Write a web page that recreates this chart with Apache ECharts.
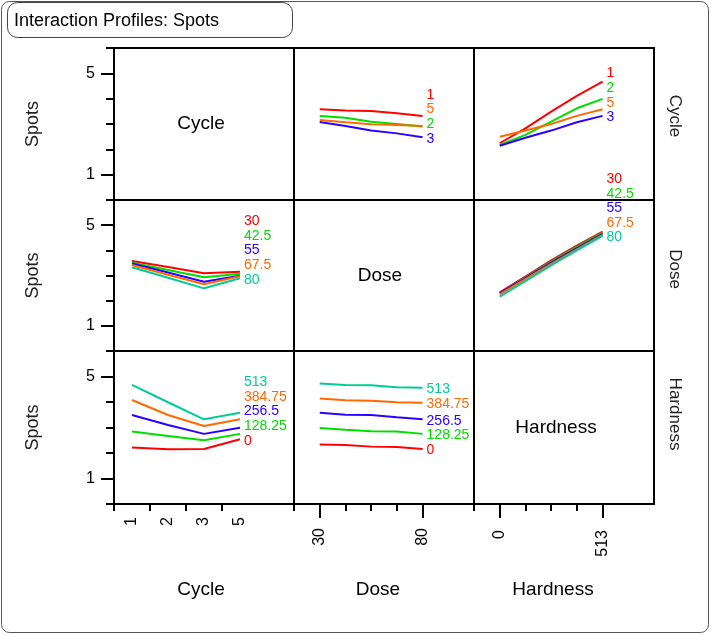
<!DOCTYPE html>
<html>
<head>
<meta charset="utf-8">
<title>Interaction Profiles: Spots</title>
<script src="https://cdn.jsdelivr.net/npm/echarts@6.0.0/dist/echarts.min.js"></script>
<style>
  html, body { margin: 0; padding: 0; background: #fff; }
  #chart { width: 711px; height: 635px; }
</style>
</head>
<body>
<div id="chart"></div>
<script>
// factor levels
const cycleLevels = ['1', '2', '3', '5']
const doseLevels = ['30', '42.5', '55', '67.5', '80']
const hardnessLevels = ['0', '128.25', '256.5', '384.75', '513']
const factorNames = ['Cycle', 'Dose', 'Hardness']
const yLabelTicks = [1, 5]

// Spots profiles, one array per trace level (x = column factor levels)
const cycleByDose = [
  [3.58, 3.53, 3.51, 3.42, 3.32],
  [3.32, 3.25, 3.09, 3.00, 2.90],
  [3.08, 2.92, 2.74, 2.63, 2.48],
  [3.16, 3.07, 2.99, 2.96, 2.92]
]
const cycleByHardness = [
  [2.24, 2.83, 3.49, 4.11, 4.67],
  [2.17, 2.57, 3.09, 3.62, 3.99],
  [2.14, 2.46, 2.74, 3.07, 3.32],
  [2.50, 2.74, 3.00, 3.32, 3.58]
]
const doseByCycle = [
  [3.58, 3.34, 3.09, 3.15],
  [3.51, 3.22, 2.93, 3.07],
  [3.48, 3.12, 2.75, 2.99],
  [3.42, 3.03, 2.65, 2.97],
  [3.33, 2.91, 2.49, 2.89]
]
const doseByHardness = [
  [2.33, 2.96, 3.60, 4.19, 4.74],
  [2.29, 2.92, 3.55, 4.14, 4.70],
  [2.29, 2.90, 3.51, 4.09, 4.65],
  [2.25, 2.86, 3.46, 4.04, 4.61],
  [2.16, 2.78, 3.40, 4.00, 4.57]
]
const hardnessByCycle = [
  [2.22, 2.15, 2.16, 2.54],
  [2.84, 2.67, 2.50, 2.75],
  [3.49, 3.10, 2.75, 2.99],
  [4.08, 3.49, 3.06, 3.32],
  [4.67, 3.99, 3.32, 3.58]
]
const hardnessByDose = [
  [2.33, 2.31, 2.25, 2.24, 2.16],
  [2.98, 2.91, 2.85, 2.84, 2.75],
  [3.58, 3.50, 3.49, 3.40, 3.32],
  [4.14, 4.07, 4.05, 3.99, 3.97],
  [4.73, 4.67, 4.66, 4.58, 4.56]
]

const colors = ['#ff0000', '#00dd00', '#2a00ff', '#ff6a00', '#00cc99']
const levels = [cycleLevels, doseLevels, hardnessLevels]
const profiles = [
  [null, cycleByDose, cycleByHardness],
  [doseByCycle, null, doseByHardness],
  [hardnessByCycle, hardnessByDose, null]
]
// category slots per column (blank slots give the empty space in each cell)
const axisCats = [
  cycleLevels.concat([' ']),
  [' '].concat(doseLevels, ['  ', '   ']),
  [' '].concat(hardnessLevels, ['  ', '   '])
]
const onBand = [true, false, false]
const tickLabelMargin = [13, 24, 26]

const colX = [114, 294, 474]
const colW = 180
const rowY = [48, 200, 351]
const rowH = [152, 151, 153]
const FONT = '"Liberation Sans", Arial, sans-serif'

let myChart = echarts.init(document.getElementById('chart'))

let grids = []
let xAxes = []
let yAxes = []
let series = []
let cells = []

for (let r = 0; r < 3; r++) {
  for (let c = 0; c < 3; c++) {
    let g = r * 3 + c
    let bottom = r === 2
    grids.push({
      left: colX[c], top: rowY[r], width: colW, height: rowH[r],
      show: true, borderColor: '#000', borderWidth: 2, backgroundColor: 'transparent'
    })
    let minorTick = c === 0
      ? (i) => i < 4
      : (i) => i === 0 || i === 2 || i === 3 || i === 4
    xAxes.push({
      gridIndex: g, type: 'category', data: axisCats[c], boundaryGap: onBand[c],
      show: bottom,
      axisLine: { show: false },
      axisTick: { show: true, alignWithLabel: false, interval: minorTick, length: 7, lineStyle: { color: '#000', width: 2 } },
      axisLabel: {
        show: c === 0, interval: (i) => i < 4, rotate: 90, margin: tickLabelMargin[c],
        fontSize: 16, fontFamily: FONT, color: '#000'
      },
      splitLine: { show: false }
    })
    yAxes.push({
      gridIndex: g, type: 'value', min: 0, max: 6, interval: 1, show: c === 0,
      axisLine: { show: false },
      axisTick: { show: true, length: 8, lineStyle: { color: '#000', width: 2 } },
      axisLabel: { show: false },
      splitLine: { show: false }
    })
    if (r !== c) {
      let idxs = []
      levels[r].forEach((lvl, k) => {
        idxs.push(series.length)
        series.push({
          type: 'line', xAxisIndex: g, yAxisIndex: g,
          data: levels[c].map((x, i) => [x, profiles[r][c][k][i]]),
          symbol: 'none', silent: true,
          color: colors[k],
          lineStyle: { color: colors[k], width: 2 }
        })
      })
      cells.push({ r, c, idxs })
    }
  }
}

// longer ticks + tick labels on Dose and Hardness
for (let c = 1; c < 3; c++) {
  xAxes.push({
    gridIndex: 6 + c, type: 'category', data: axisCats[c], boundaryGap: false,
    position: 'bottom', offset: 0,
    axisLine: { show: false },
    axisTick: { show: true, alignWithLabel: true, interval: (i) => i === 1 || i === 5, length: 14, lineStyle: { color: '#000', width: 2 } },
    axisLabel: {
      interval: (i) => i === 1 || i === 5, rotate: 90, margin: tickLabelMargin[c],
      fontSize: 16, fontFamily: FONT, color: '#000'
    },
    splitLine: { show: false }
  })
}
// longer ticks + labels at 1 and 5 on Spots axes
for (let r = 0; r < 3; r++) {
  yAxes.push({
    gridIndex: r * 3, type: 'value', min: 0, max: 6, position: 'left', offset: 0,
    axisLine: { show: false },
    axisTick: { show: true, customValues: yLabelTicks, length: 13, lineStyle: { color: '#000', width: 2 } },
    axisLabel: {
      customValues: yLabelTicks, margin: 19, fontSize: 16, fontFamily: FONT, color: '#000',
      formatter: (v) => (yLabelTicks.indexOf(v) >= 0 ? String(v) : '')
    },
    splitLine: { show: false }
  })
}

let option = {
  animation: false,
  grid: grids,
  xAxis: xAxes,
  yAxis: yAxes,
  series: series
}
myChart.setOption(option)

// static texts and frames
let elements = [
  { type: 'rect', shape: { x: 1.5, y: 1.5, width: 707, height: 631, r: 8 }, style: { fill: 'none', stroke: '#555', lineWidth: 1 } },
  { type: 'rect', shape: { x: 7.5, y: 2.5, width: 285, height: 35, r: 10 }, style: { fill: '#fff', stroke: '#444', lineWidth: 1 } },
  { type: 'text', x: 14, y: 21, style: { text: 'Interaction Profiles: Spots', font: '18px ' + FONT, fill: '#000', textVerticalAlign: 'middle' } }
]
const diagX = [201, 380, 556]
const diagY = [124, 276, 428]
const sideY = [116, 269, 414]
const bottomX = [201, 378, 553]
for (let i = 0; i < 3; i++) {
  elements.push({ type: 'text', x: diagX[i], y: diagY[i], style: { text: factorNames[i], font: '19px ' + FONT, fill: '#000', textAlign: 'center', textVerticalAlign: 'middle' } })
  elements.push({ type: 'text', x: 675, y: sideY[i], rotation: -Math.PI / 2, style: { text: factorNames[i], font: '17px ' + FONT, fill: '#222', textAlign: 'center', textVerticalAlign: 'middle' } })
  elements.push({ type: 'text', x: bottomX[i], y: 590, style: { text: factorNames[i], font: '19px ' + FONT, fill: '#000', textAlign: 'center', textVerticalAlign: 'middle' } })
  elements.push({ type: 'text', x: 33, y: rowY[i] + rowH[i] / 2, rotation: Math.PI / 2, style: { text: 'Spots', font: '18px ' + FONT, fill: '#222', textAlign: 'center', textVerticalAlign: 'middle' } })
}

// trace labels at the line ends, stacked upward so they do not overlap
const labelGap = 14.6
cells.forEach((cell) => {
  let ends = cell.idxs.map((si, k) => {
    let d = series[si].data
    let p = myChart.convertToPixel({ seriesIndex: si }, d[d.length - 1])
    return { k, x: p[0], y: p[1] + 1.5 }
  })
  ends.sort((a, b) => a.y - b.y)
  for (let i = ends.length - 2; i >= 0; i--) {
    ends[i].y = Math.min(ends[i].y, ends[i + 1].y - labelGap)
  }
  ends.forEach((e) => {
    elements.push({
      type: 'text', x: e.x + 4, y: e.y, z: 10,
      style: { text: levels[cell.r][e.k], font: '14px ' + FONT, fill: colors[e.k], textVerticalAlign: 'middle' }
    })
  })
})

myChart.setOption({ graphic: { elements: elements } })
</script>
</body>
</html>
